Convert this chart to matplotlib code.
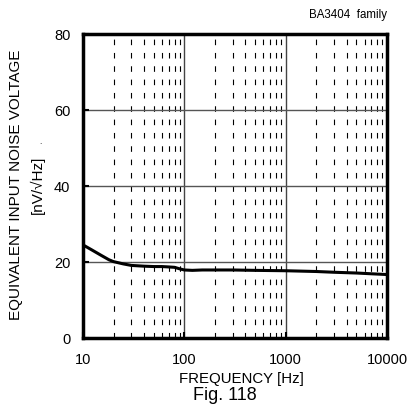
import matplotlib
matplotlib.use("Agg")
import matplotlib.pyplot as plt
import numpy as np

plt.rcParams['font.family'] = ['Liberation Sans', 'DejaVu Sans']

# data
freq = [10, 12, 15, 18, 20, 25, 30, 40, 50, 60, 70, 80, 90, 100, 120, 150, 200, 300, 500, 1000, 2000, 3000, 5000, 7000, 10000]
noise = [24.5, 23.3, 21.8, 20.6, 20.1, 19.5, 19.1, 18.9, 18.8, 18.8, 18.7, 18.6, 18.2, 17.9, 17.8, 17.9, 17.9, 17.9, 17.8, 17.7, 17.5, 17.3, 17.1, 16.9, 16.7]

xticks = [10, 100, 1000, 10000]
xticklabels = ["10", "100", "1000", "10000"]
yticks = [0, 20, 40, 60, 80]

W, H = 408, 405
fig = plt.figure(figsize=(4.08, 4.05), dpi=100)
ax = fig.add_axes([83 / W, 1 - 338 / H, 304 / W, 304 / H])

ax.set_xscale("log")
ax.set_xlim(10, 10000)
ax.set_ylim(0, 80)

# minor dashed grid
for dec in [10, 100, 1000]:
    for k in range(2, 10):
        ax.axvline(dec * k, color="black", lw=0.8, ls=(0, (5, 7)), zorder=1)
for d in [100, 1000]:
    ax.axvline(d, color="#444444", lw=1.0, zorder=1)
for y in [20, 40, 60]:
    ax.axhline(y, color="#555555", lw=1.0, zorder=1)

ax.plot(freq, noise, color="black", lw=2.2, zorder=3)

ax.set_xticks(xticks)
ax.set_xticklabels(xticklabels)
ax.set_yticks(yticks)
ax.minorticks_off()
ax.tick_params(axis="both", direction="in", length=4, width=1.5, labelsize=10.5)
ax.tick_params(axis="x", pad=11)
ax.tick_params(axis="y", pad=9)
for s in ax.spines.values():
    s.set_linewidth(2.5)

fig.text(16 / W, 1 - 185 / H, "EQUIVALENT INPUT NOISE VOLTAGE", rotation=90,
         ha="center", va="center", fontsize=11)
fig.text(37 / W, 1 - 185 / H, "[nV/\u221aHz]", rotation=90,
         ha="center", va="center", fontsize=11)
fig.text(40 / W, 1 - 143 / H, ".", ha="center", va="center", fontsize=6)
fig.text(387 / W, 1 - 15 / H, "BA3404  family", ha="right", va="center", fontsize=8.3)
fig.text(241 / W, 1 - 379 / H, "FREQUENCY [Hz]", ha="center", va="center", fontsize=10.8)
fig.text(225 / W, 1 - 404 / H, "Fig. 118", ha="center", va="bottom", fontsize=13)

fig.savefig("out.png", dpi=100)
